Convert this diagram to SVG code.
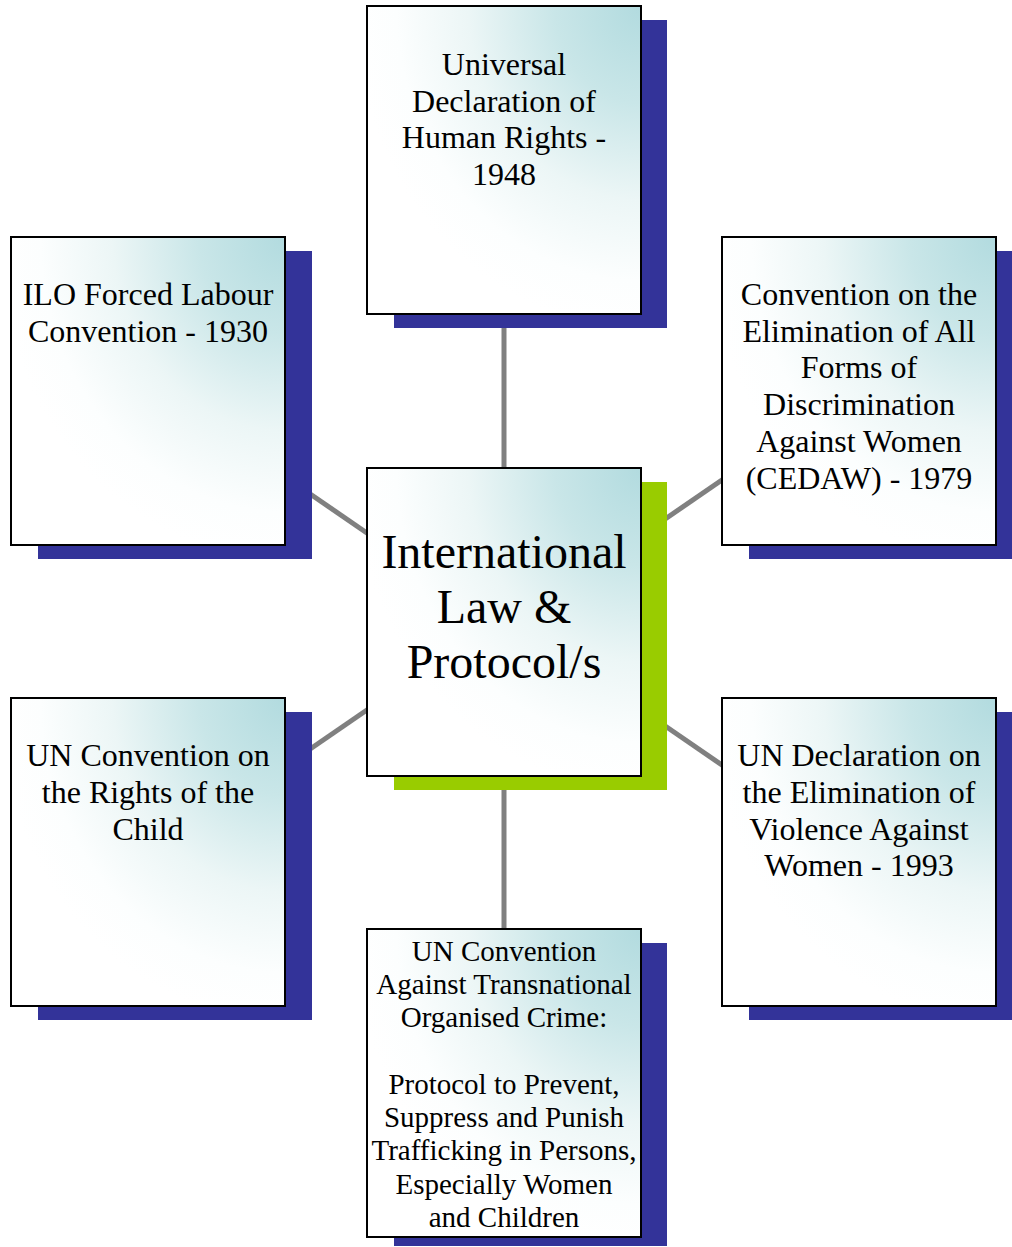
<svg xmlns="http://www.w3.org/2000/svg" width="1012" height="1247" viewBox="0 0 1012 1247">
<defs>
<radialGradient id="fill" cx="1" cy="0" r="1.05" gradientUnits="objectBoundingBox">
<stop offset="0" stop-color="#b2dbdf"/>
<stop offset="0.3" stop-color="#c9e6e8"/>
<stop offset="0.6" stop-color="#ecf6f6"/>
<stop offset="0.85" stop-color="#fcfefe"/>
<stop offset="1" stop-color="#ffffff"/>
</radialGradient>
</defs>
<style>
.box{fill:url(#fill);stroke:#000;stroke-width:2}
.sh{fill:#333399}
.shg{fill:#99cc00}
.t{font-family:"Liberation Serif","Times New Roman",serif;font-size:32px;fill:#000;text-anchor:middle}
.ts{font-size:29px}
.tc{font-size:48px}
.c{stroke:#808080;stroke-width:5;fill:none}
</style>
<rect width="1012" height="1247" fill="#fff"/>
<g id="connectors">
<line class="c" x1="504" y1="300" x2="504" y2="480"/>
<line class="c" x1="504" y1="770" x2="504" y2="940"/>
<line class="c" x1="300" y1="487" x2="380" y2="542"/>
<line class="c" x1="655" y1="526" x2="735" y2="471"/>
<line class="c" x1="300" y1="756" x2="380" y2="701"/>
<line class="c" x1="655" y1="719" x2="735" y2="774"/>
</g>
<g id="n-udhr">
<rect class="sh" x="394" y="20" width="273" height="308"/>
<rect class="box" x="367" y="6" width="274" height="308"/>
<text class="t" x="504" y="75">Universal</text>
<text class="t" x="504" y="112">Declaration of</text>
<text class="t" x="504" y="148">Human Rights -</text>
<text class="t" x="504" y="185">1948</text>
</g>
<g id="n-ilo">
<rect class="sh" x="38" y="251" width="274" height="308"/>
<rect class="box" x="11" y="237" width="274" height="308"/>
<text class="t" x="148" y="305">ILO Forced Labour</text>
<text class="t" x="148" y="342">Convention - 1930</text>
</g>
<g id="n-cedaw">
<rect class="sh" x="749" y="251" width="274" height="308"/>
<rect class="box" x="722" y="237" width="274" height="308"/>
<text class="t" x="859" y="305">Convention on the</text>
<text class="t" x="859" y="342">Elimination of All</text>
<text class="t" x="859" y="378">Forms of</text>
<text class="t" x="859" y="415">Discrimination</text>
<text class="t" x="859" y="452">Against Women</text>
<text class="t" x="859" y="489">(CEDAW) - 1979</text>
</g>
<g id="n-center">
<rect class="shg" x="394" y="482" width="273" height="308"/>
<rect class="box" x="367" y="468" width="274" height="308"/>
<text class="t tc" x="504" y="568">International</text>
<text class="t tc" x="504" y="623">Law &amp;</text>
<text class="t tc" x="504" y="678">Protocol/s</text>
</g>
<g id="n-crc">
<rect class="sh" x="38" y="712" width="274" height="308"/>
<rect class="box" x="11" y="698" width="274" height="308"/>
<text class="t" x="148" y="766">UN Convention on</text>
<text class="t" x="148" y="803">the Rights of the</text>
<text class="t" x="148" y="840">Child</text>
</g>
<g id="n-devaw">
<rect class="sh" x="749" y="712" width="274" height="308"/>
<rect class="box" x="722" y="698" width="274" height="308"/>
<text class="t" x="859" y="766">UN Declaration on</text>
<text class="t" x="859" y="803">the Elimination of</text>
<text class="t" x="859" y="840">Violence Against</text>
<text class="t" x="859" y="876">Women - 1993</text>
</g>
<g id="n-untoc">
<rect class="sh" x="394" y="943" width="273" height="303"/>
<rect class="box" x="367" y="929" width="274" height="308"/>
<text class="t ts" x="504" y="961">UN Convention</text>
<text class="t ts" x="504" y="994">Against Transnational</text>
<text class="t ts" x="504" y="1027">Organised Crime:</text>
<text class="t ts" x="504" y="1094">Protocol to Prevent,</text>
<text class="t ts" x="504" y="1127">Suppress and Punish</text>
<text class="t ts" x="504" y="1160">Trafficking in Persons,</text>
<text class="t ts" x="504" y="1194">Especially Women</text>
<text class="t ts" x="504" y="1227">and Children</text>
</g>
</svg>
